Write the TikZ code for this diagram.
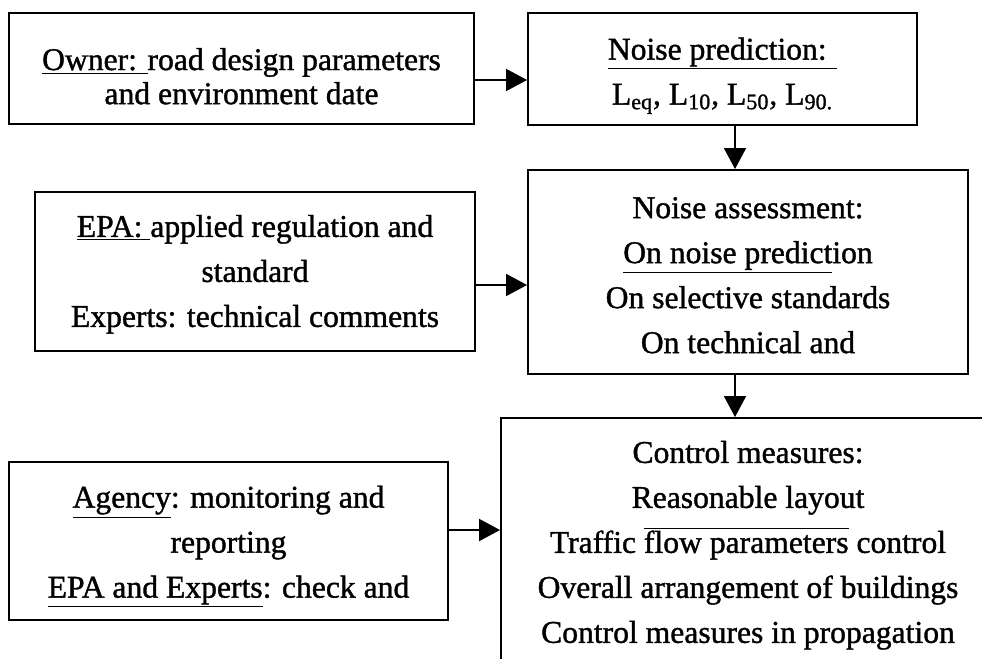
\documentclass[tikz,border=0pt]{standalone}
\usepackage{fontspec}
\setmainfont{Liberation Serif}[FakeBold=1.2]
\usetikzlibrary{arrows.meta}
\newcommand{\topgap}[1]{\rule{0pt}{#1}}

\begin{document}
\begin{tikzpicture}[font=\fontsize{18}{25.6}\selectfont, >={Triangle[length=4.2mm, width=4.4mm]},
    box/.style={draw, line width=1.1pt, align=center, inner sep=0pt}]
    \useasboundingbox (0,0) rectangle (19.64,13.16);
    \clip (0,0) rectangle (19.64,13.16);
    \node[box, minimum width=9.3cm, minimum height=2.22cm, font=\fontsize{18}{19.4}\selectfont] (own) at (4.83,11.79)
      {\topgap{0.75cm}\underline{Owner: }road design parameters\\and environment date};
    \node[box, minimum width=7.78cm, minimum height=2.24cm] (pred) at (14.45,11.78)
      {\topgap{0.71cm}\underline{Noise prediction: }\\L\textsubscript{eq}, L\textsubscript{10}, L\textsubscript{50}, L\textsubscript{90.}};
    \node[box, minimum width=8.8cm, minimum height=3.18cm] (epa) at (5.1,7.73)
      {\topgap{0.55cm}\underline{EPA: }applied regulation and\\standard\\Experts: technical comments};
    \node[box, minimum width=8.8cm, minimum height=4.08cm] (asm) at (14.96,7.72)
      {\topgap{0.55cm}Noise assessment:\\\underline{On noise predict}ion\\On selective standards\\On technical and};
    \node[box, minimum width=8.78cm, minimum height=3.16cm] (agy) at (4.57,2.34)
      {\topgap{0.67cm}\underline{Agency}: monitoring and\\reporting\\\underline{EPA and Experts}: check and};
    \node[box, minimum width=9.88cm, minimum height=4.98cm] (ctl) at (14.96,2.31)
      {\topgap{0.55cm}Control measures:\\Reasonable layout\\Traffic \(\overline{\mbox{flow parameters}}\) control\\Overall arrangement of buildings\\Control measures in propagation};
    \draw[->, line width=1.1pt] ([yshift=-0.23cm]own.east) -- ([yshift=-0.23cm]own.east -| pred.west);
    \draw[->, line width=1.1pt] ([xshift=0.25cm]pred.south) -- ([xshift=0.25cm]pred.south |- asm.north);
    \draw[->, line width=1.1pt] ([yshift=-0.27cm]epa.east) -- ([yshift=-0.27cm]epa.east -| asm.west);
    \draw[->, line width=1.1pt] ([xshift=-0.26cm]asm.south) -- ([xshift=-0.26cm]asm.south |- ctl.north);
    \draw[->, line width=1.1pt] ([yshift=0.22cm]agy.east) -- ([yshift=0.22cm]agy.east -| ctl.west);
\end{tikzpicture}
\end{document}
